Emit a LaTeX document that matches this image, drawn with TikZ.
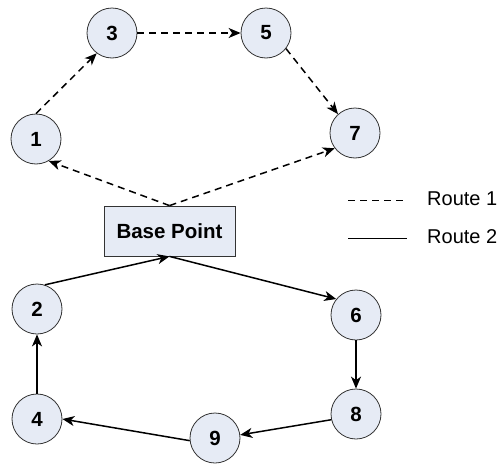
\documentclass[tikz,border=0pt]{standalone}
\usepackage{fontspec}
\setmainfont{Liberation Sans}
\usetikzlibrary{arrows.meta}
\definecolor{nodefill}{HTML}{E6EBF5}
\definecolor{nodeline}{HTML}{333333}
\begin{document}
\begin{tikzpicture}[x=1pt,y=-1pt,
  stop/.style={circle,draw=nodeline,fill=nodefill,line width=0.8pt,minimum size=50pt,inner sep=0pt,font=\bfseries\fontsize{20.5}{24}\selectfont},
  basebox/.style={rectangle,draw=nodeline,fill=nodefill,line width=0.8pt,minimum width=131pt,minimum height=50pt,inner sep=0pt,font=\bfseries\fontsize{20.5}{24}\selectfont},
  legtext/.style={anchor=west,inner sep=0pt,font=\fontsize{20}{24}\selectfont},
  tip/.style={-{Stealth[length=12pt,width=10pt,inset=3.5pt]}},
  routeone/.style={tip,line width=1.5pt,dash pattern=on 7pt off 5pt},
  routetwo/.style={tip,line width=1.5pt}]
\useasboundingbox (0,0) rectangle (501,466);

% stops
\node[stop] (n1) at (36,139) {1};
\node[stop] (n3) at (112,33) {3};
\node[stop] (n5) at (266,33) {5};
\node[stop] (n7) at (355,133) {7};
\node[stop] (n2) at (37,309) {2};
\node[stop] (n4) at (37,419) {4};
\node[stop] (n9) at (215,438) {9};
\node[stop] (n6) at (356,315) {6};
\node[stop] (n8) at (356,414) {8};
\node[basebox] (base) at (169.5,231) {Base Point};

% route 1 (dashed)
\draw[routeone] (n1.north) -- (n3.233);
\draw[routeone] (n3.east) -- (n5.west);
\draw[routeone] (n5.322) -- (n7.132);
\draw[routeone] (base.north) -- (n1.300);
\draw[routeone] (base.north) -- (n7.217);

% route 2 (solid)
\draw[routetwo] (n2.72) -- (base.south);
\draw[routetwo] (base.south) -- (n6.141);
\draw[routetwo] (n6.south) -- (n8.north);
\draw[routetwo] (n8.193) -- (n9.7);
\draw[routetwo] (n9.186) -- (n4.east);
\draw[routetwo] (n4.north) -- (n2.south);

% legend
\coordinate (l1a) at (348,200);
\coordinate (l1b) at (407,200);
\coordinate (l2a) at (348,238);
\coordinate (l2b) at (407,238);
\draw[line width=1pt,dash pattern=on 7pt off 5pt] (l1a) -- (l1b);
\draw[line width=1pt] (l2a) -- (l2b);
\node[legtext] (r1) at (427,199) {Route 1};
\node[legtext] (r2) at (427,237) {Route 2};
\end{tikzpicture}
\end{document}
